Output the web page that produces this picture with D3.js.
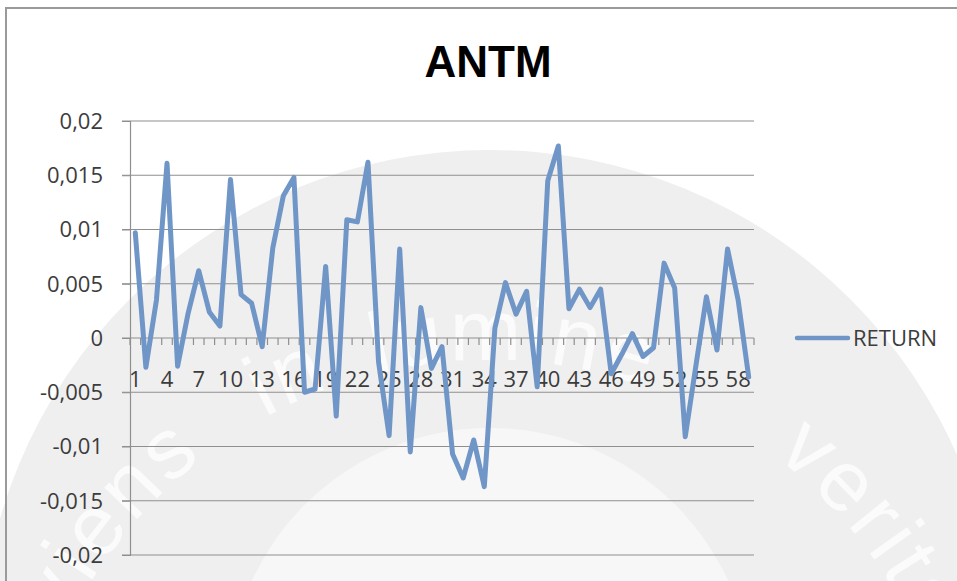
<!DOCTYPE html>
<html>
<head>
<meta charset="utf-8">
<script src="https://cdn.jsdelivr.net/npm/d3@7"></script>
<style>
  body { margin: 0; background: #fff; }
  svg { display: block; font-family: "Open Sans", sans-serif; }
</style>
</head>
<body>
<svg id="chart" width="957" height="581"></svg>
<script>
// data
const periods = [1,2,3,4,5,6,7,8,9,10,11,12,13,14,15,16,17,18,19,20,
                 21,22,23,24,25,26,27,28,29,30,31,32,33,34,35,36,37,38,39,40,
                 41,42,43,44,45,46,47,48,49,50,51,52,53,54,55,56,57,58,59];

const returns = [0.0097,-0.0027,0.0035,0.0161,-0.0026,0.0023,0.0062,0.0024,0.0011,0.0146,
                 0.0040,0.0032,-0.0008,0.0083,0.0131,0.0148,-0.0050,-0.0047,0.0066,-0.0072,
                 0.0109,0.0107,0.0162,-0.0022,-0.0090,0.0082,-0.0105,0.0028,-0.0028,-0.0008,
                 -0.0107,-0.0129,-0.0094,-0.0137,0.0009,0.0051,0.0022,0.0043,-0.0045,0.0145,
                 0.0177,0.0027,0.0045,0.0028,0.0045,-0.0033,-0.0015,0.0004,-0.0017,-0.0009,
                 0.0069,0.0046,-0.0091,-0.0026,0.0038,-0.0011,0.0082,0.0035,-0.0036];

const yTicks = [0.02, 0.015, 0.01, 0.005, 0, -0.005, -0.01, -0.015, -0.02];
const yTickLabels = ["0,02","0,015","0,01","0,005","0","-0,005","-0,01","-0,015","-0,02"];
const seriesName = "RETURN";
const chartTitle = "ANTM";

let svg = d3.select("#chart");

// faint university watermark behind the chart
let wm = svg.append("g").attr("class", "watermark");
wm.append("circle").attr("cx", 490).attr("cy", 660).attr("r", 510).attr("fill", "#efefef");
wm.append("circle").attr("cx", 490).attr("cy", 690).attr("r", 262).attr("fill", "#f7f7f7");

let cx = 490, cy = 830, r = 470;
wm.append("path").attr("id", "wmArc").attr("fill", "none")
  .attr("d", `M${cx},${cy + r} A${r},${r} 0 1 1 ${cx},${cy - r} A${r},${r} 0 1 1 ${cx},${cy + r}`);

let quarter = Math.PI * r / 2;
let words = [
  {t: "serviens", off: quarter + r * 0.92, anchor: "end"},
  {t: "in", off: quarter + r * 1.15, anchor: "middle"},
  {t: "lumine", off: quarter + r * 1.62, anchor: "middle"},
  {t: "veritatis", off: quarter + r * 2.22, anchor: "start"}
];
wm.selectAll("text.wm").data(words).join("text")
  .attr("class", "wm")
  .attr("font-family", "Liberation Sans, sans-serif")
  .attr("font-size", 86)
  .attr("letter-spacing", 4)
  .attr("fill", "#fbfbfb")
  .append("textPath")
  .attr("href", "#wmArc")
  .attr("startOffset", d => d.off)
  .attr("text-anchor", d => d.anchor)
  .text(d => d.t);

// chart area border
svg.append("path").attr("d", "M6,581 V8 H957")
  .attr("fill", "none").attr("stroke", "#9a9a9a").attr("stroke-width", 2);

// title
svg.append("text").attr("x", 488).attr("y", 77)
  .attr("text-anchor", "middle")
  .attr("font-family", "Liberation Sans, sans-serif")
  .attr("font-weight", "bold").attr("font-size", 44)
  .attr("fill", "#000").text(chartTitle);

let plotLeft = 130, plotRight = 754, plotTop = 121, plotBottom = 555;

let y = d3.scaleLinear().domain([-0.02, 0.02]).range([plotBottom, plotTop]);
let x = d3.scaleBand().domain(periods).range([plotLeft, plotRight]);

// gridlines
svg.append("g").selectAll("line").data(yTicks).join("line")
  .attr("x1", plotLeft - 8).attr("x2", plotRight)
  .attr("y1", d => y(d)).attr("y2", d => y(d))
  .attr("stroke", "#8f8f8f").attr("stroke-width", 1.2);

// value axis
let yAxis = d3.axisLeft(y).tickValues(yTicks).tickSize(8).tickPadding(19)
  .tickFormat((d, i) => yTickLabels[i]);
let yg = svg.append("g").attr("transform", `translate(${plotLeft},0)`).call(yAxis);
yg.select(".domain").attr("stroke", "#8f8f8f").attr("stroke-width", 1.2);
yg.selectAll("line").attr("stroke", "#8f8f8f");
yg.selectAll("text").attr("font-size", 22).attr("fill", "#3c3c3c")
  .attr("font-family", "Open Sans, sans-serif").attr("dy", "0.34em");

// category axis on the zero line
let boundaries = periods.map(d => x(d)).concat([plotRight]);
svg.append("g").selectAll("line").data(boundaries).join("line")
  .attr("x1", d => d).attr("x2", d => d)
  .attr("y1", y(0)).attr("y2", y(0) + 7)
  .attr("stroke", "#8f8f8f").attr("stroke-width", 1.2);

svg.append("g").selectAll("text").data(periods.filter(d => (d - 1) % 3 == 0)).join("text")
  .attr("x", d => x(d) + x.bandwidth() / 2)
  .attr("y", 387)
  .attr("text-anchor", "middle")
  .attr("font-size", 22).attr("fill", "#3c3c3c")
  .text(d => d);

// the series
let line = d3.line()
  .x((d, i) => x(periods[i]) + x.bandwidth() / 2)
  .y(d => y(d));

svg.append("path").datum(returns)
  .attr("d", line)
  .attr("fill", "none")
  .attr("stroke", "#6f96c7")
  .attr("stroke-width", 5)
  .attr("stroke-linejoin", "round")
  .attr("stroke-linecap", "round");

// legend
let lg = svg.append("g").attr("transform", `translate(797,${y(0)})`);
lg.append("line").attr("x1", 0).attr("x2", 51)
  .attr("stroke", "#6f96c7").attr("stroke-width", 4.5).attr("stroke-linecap", "round");
lg.append("text").attr("x", 56).attr("y", 8)
  .attr("font-size", 22).attr("fill", "#3c3c3c").text(seriesName);
</script>
</body>
</html>
